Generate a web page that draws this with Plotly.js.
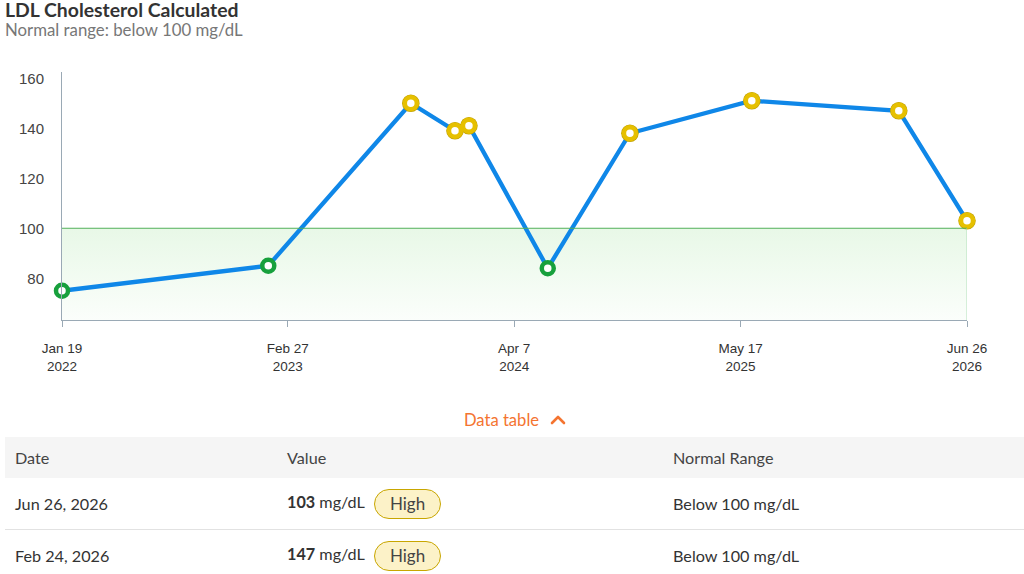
<!DOCTYPE html>
<html>
<head>
<meta charset="utf-8">
<script src="https://cdn.plot.ly/plotly-3.0.1.min.js"></script>
<style>
  html, body { margin:0; padding:0; width:1024px; height:574px; overflow:hidden; background:#fff; }
  body { font-family: 'Lato', 'Open Sans', sans-serif; color:#333; position:relative; }
  #title { position:absolute; left:5px; top:-2px; font-size:19.4px; font-weight:700; color:#333; }
  #subtitle { position:absolute; left:5px; top:19px; font-size:16.8px; color:#777; }
  #chart { position:absolute; left:0; top:0; width:1024px; height:400px; }
  #toggle { position:absolute; left:0; width:1024px; top:410px; text-align:center; font-size:16.6px; color:#f47430; padding-left:6px; box-sizing:border-box; }
  #toggle svg { vertical-align:middle; margin-left:11px; margin-top:-3px; }
  #tbl { position:absolute; left:5px; top:437px; width:1019px; border-collapse:collapse; table-layout:fixed; font-size:16.2px; }
  #tbl th { background:#f5f5f5; font-weight:400; text-align:left; height:41px; padding:0 0 0 10px; color:#444; }
  #tbl td { height:51px; padding:0 0 0 10px; border-bottom:1px solid #e2e2e2; color:#333; }
  .num { font-weight:700; }
  .badge { display:inline-block; margin-left:9px; border:1.5px solid #c8a600; background:#fcf2c8; border-radius:16px; padding:0 15px; height:28px; line-height:28px; color:#444; font-size:17px; vertical-align:middle; }
</style>
</head>
<body>
<div id="chart"></div>
<div id="title">LDL Cholesterol Calculated</div>
<div id="subtitle">Normal range: below 100 mg/dL</div>
<div id="toggle">Data table<svg width="16" height="10" viewBox="0 0 16 10"><polyline points="2,8 8,2 14,8" fill="none" stroke="#f47430" stroke-width="2.6" stroke-linecap="round" stroke-linejoin="round"/></svg></div>
<table id="tbl">
  <colgroup><col style="width:272px"><col style="width:386px"><col></colgroup>
  <thead><tr><th>Date</th><th>Value</th><th>Normal Range</th></tr></thead>
  <tbody id="tbody"></tbody>
</table>
<script>
// ---- data ----
const dates = ["2022-01-19","2023-01-23","2023-10-05","2023-12-23","2024-01-17","2024-06-06","2024-10-31","2025-06-06","2026-02-24","2026-06-26"];
const values = [75, 85, 150, 139, 141, 84, 138, 151, 147, 103];
const normalMax = 100;
const unit = "mg/dL";
const tickDates = ["2022-01-19","2023-02-27","2024-04-07","2025-05-17","2026-06-26"];
const tickLabels = ["Jan 19<br>2022","Feb 27<br>2023","Apr 7<br>2024","May 17<br>2025","Jun 26<br>2026"];
const yTickVals = [80, 100, 120, 140, 160];
const visibleRows = 2;

// ---- styles ----
const yRange = [63.3, 162.5];
const blue = "#0f87e8", green = "#17a03c", gold = "#e6c000", goldDark = "#bf9f00";
const axisColor = "#9aa9b5";
const isHigh = values.map(v => v > normalMax);

const x0 = dates[0], x1 = dates[dates.length - 1];

const band = {
  x: [x0, x1, x1, x0, x0],
  y: [yRange[0], yRange[0], normalMax, normalMax, yRange[0]],
  mode: "lines", fill: "toself", line: { width: 0 },
  fillgradient: { type: "vertical", start: yRange[0], stop: normalMax,
    colorscale: [[0, "rgb(251,254,251)"], [1, "rgb(232,248,231)"]] },
  hoverinfo: "skip", showlegend: false
};
const line = {
  x: dates, y: values, mode: "lines",
  line: { color: blue, width: 4.3 }, hoverinfo: "skip", showlegend: false, cliponaxis: false
};
const hiX = dates.filter((d, i) => isHigh[i]);
const hiY = values.filter((v, i) => isHigh[i]);
const outline = {
  x: hiX, y: hiY, mode: "markers",
  marker: { size: 17.5, color: goldDark, line: { width: 0 } },
  hoverinfo: "skip", showlegend: false, cliponaxis: false
};
const markers = {
  x: dates, y: values, mode: "markers",
  marker: { size: 12, color: "#ffffff", line: { width: 4.5, color: isHigh.map(h => h ? gold : green) } },
  hoverinfo: "skip", showlegend: false, cliponaxis: false
};

const layout = {
  width: 1024, height: 400,
  margin: { l: 62, r: 57, t: 72, b: 80 },
  paper_bgcolor: "rgba(0,0,0,0)", plot_bgcolor: "rgba(0,0,0,0)",
  showlegend: false,
  xaxis: {
    type: "date", range: [x0, x1], showgrid: false, zeroline: false,
    showline: true, linecolor: axisColor, linewidth: 1,
    ticks: "outside", ticklen: 6, tickcolor: axisColor,
    tickvals: tickDates, ticktext: tickLabels, ticklabelstandoff: 10,
    tickfont: { family: "'Liberation Sans', Arial, sans-serif", size: 13.5, color: "#333" }
  },
  yaxis: {
    range: yRange, showgrid: false, zeroline: false,
    showline: true, linecolor: axisColor, linewidth: 1,
    ticks: "", tickvals: yTickVals, ticklabelstandoff: 14,
    tickfont: { family: "'Liberation Sans', Arial, sans-serif", size: 15, color: "#444" }
  },
  shapes: [
    { type: "line", xref: "x", yref: "y", x0: x0, x1: x1, y0: normalMax, y1: normalMax,
      line: { color: "#52b05a", width: 1 } },
    { type: "line", xref: "x", yref: "y", x0: x1, x1: x1, y0: yRange[0], y1: normalMax,
      line: { color: "#b3e0ba", width: 1 } }
  ]
};

Plotly.newPlot("chart", [band, line, outline, markers], layout, { displayModeBar: false, staticPlot: true });

// ---- table (latest first; only the rows that fit the view) ----
const months = ["Jan","Feb","Mar","Apr","May","Jun","Jul","Aug","Sep","Oct","Nov","Dec"];
function fmt(d) { const p = d.split("-"); return months[+p[1] - 1] + " " + (+p[2]) + ", " + p[0]; }
const tbody = document.getElementById("tbody");
const order = dates.map((d, i) => i).reverse().slice(0, visibleRows);
order.forEach(i => {
  const tr = document.createElement("tr");
  const badge = isHigh[i] ? '<span class="badge">High</span>' : '<span class="badge" style="background:#e6f6e8;border-color:#17a03c">Normal</span>';
  tr.innerHTML = "<td>" + fmt(dates[i]) + "</td><td><span class='num'>" + values[i] + "</span> " + unit + badge + "</td><td>Below " + normalMax + " " + unit + "</td>";
  tbody.appendChild(tr);
});
</script>
</body>
</html>
